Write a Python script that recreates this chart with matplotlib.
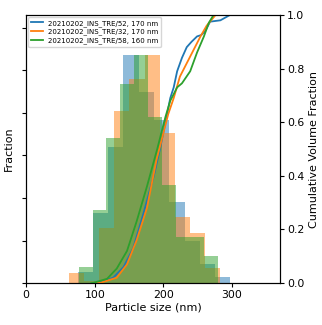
import matplotlib

matplotlib.use("Agg")
import matplotlib.pyplot as plt
import numpy as np

# histogram bin edges (nm) and fractions per bin, one set per sample
labels = [
    "20210202_INS_TRE/52, 170 nm",
    "20210202_INS_TRE/32, 170 nm",
    "20210202_INS_TRE/58, 160 nm",
]
colors = ["tab:blue", "tab:orange", "tab:green"]

edges_52 = np.linspace(75, 297.5, 11)
frac_52 = [0.0104, 0.0656, 0.128, 0.2144, 0.18, 0.1536, 0.0764, 0.04, 0.018, 0.0056]

edges_32 = np.linspace(62, 283, 11)
frac_32 = [0.0092, 0.002, 0.0516, 0.162, 0.192, 0.2144, 0.1412, 0.0624, 0.0472, 0.014]

edges_58 = np.linspace(76.5, 279, 11)
frac_58 = [0.0152, 0.0684, 0.1364, 0.1868, 0.2144, 0.156, 0.092, 0.0436, 0.0436, 0.0256]

# cumulative volume fraction
cum_x_52 = [100, 108, 127, 142, 156, 171, 186, 195, 203, 210, 215, 220, 227, 234, 241, 249, 255, 261, 268, 283, 297]
cum_y_52 = [0.0, 0.004, 0.02, 0.06, 0.13, 0.26, 0.40, 0.50, 0.60, 0.69, 0.73, 0.79, 0.84, 0.88, 0.90, 0.92, 0.925, 0.94, 0.975, 0.98, 1.0]

cum_x_32 = [100, 108, 132, 147, 161, 176, 190, 200, 207, 215, 224, 234, 244, 254, 263, 276]
cum_y_32 = [0.0, 0.001, 0.02, 0.07, 0.16, 0.28, 0.46, 0.56, 0.63, 0.69, 0.77, 0.82, 0.87, 0.92, 0.96, 1.0]

cum_x_58 = [95, 98, 118, 132, 147, 161, 176, 191, 203, 210, 220, 227, 239, 249, 259, 266, 273]
cum_y_58 = [0.0, 0.001, 0.016, 0.054, 0.12, 0.23, 0.36, 0.50, 0.62, 0.68, 0.73, 0.745, 0.79, 0.86, 0.92, 0.97, 1.0]

hists = [(edges_52, frac_52), (edges_32, frac_32), (edges_58, frac_58)]
curves = [(cum_x_52, cum_y_52), (cum_x_32, cum_y_32), (cum_x_58, cum_y_58)]

fig = plt.figure(figsize=(3.22, 3.25), dpi=100)
ax = fig.add_axes([0.081, 0.129, 0.789, 0.825])
ax2 = ax.twinx()

for (edges, frac), c in zip(hists, colors):
    ax.bar(edges[:-1], frac, width=np.diff(edges), align="edge", color=c, alpha=0.5)

for (cx, cy), c, lab in zip(curves, colors, labels):
    ax2.plot(cx, cy, color=c, lw=1.3, label=lab)

ax.set_xlim(0, 370)
ax.set_ylim(0, 0.252)
ax.set_yticks(np.arange(0, 0.25, 0.04))
ax.set_yticklabels([])
ax.set_xticks([0, 100, 200, 300])
ax.set_xlabel("Particle size (nm)", fontsize=8, labelpad=2)
ax.set_ylabel("Fraction", fontsize=8, labelpad=4)
ax.tick_params(labelsize=7.8, length=3, pad=2)

ax2.set_ylim(0, 1.0)
ax2.set_ylabel("Cumulative Volume Fraction", fontsize=8, labelpad=3)
ax2.tick_params(labelsize=7.8, length=3, pad=2)

ax2.legend(loc="upper left", fontsize=5, frameon=True, borderpad=0.4,
           handlelength=1.8, handletextpad=0.6, labelspacing=0.3, borderaxespad=0.3)

fig.savefig("out.png", dpi=100)
